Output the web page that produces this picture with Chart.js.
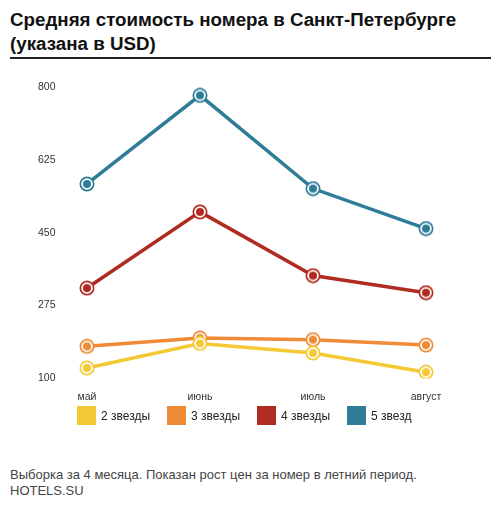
<!DOCTYPE html>
<html>
<head>
<meta charset="utf-8">
<script src="https://cdn.jsdelivr.net/npm/chart.js@4"></script>
<style>
  body { margin: 0; background: #fff; font-family: "Liberation Sans", Arial, sans-serif; }
  #title { position: absolute; left: 10px; top: 8px; width: 481px; font-weight: bold; font-size: 18.75px;
           line-height: 24px; color: #111; border-bottom: 2px solid #222; padding-bottom: 1px; }
  #wrap { position: absolute; left: 0; top: 66px; width: 500px; height: 349px; }
  #legend { position: absolute; left: 77px; top: 406px; display: flex; }
  #legend .item { width: 90px; display: flex; align-items: center; font-size: 12px; color: #222; }
  #legend .box { width: 19px; height: 19px; margin-right: 5px; }
  #note { position: absolute; left: 10px; top: 467px; font-size: 13px; line-height: 16px; color: #444; }
</style>
</head>
<body>
<div id="title">Средняя стоимость номера в Санкт-Петербурге<br>(указана в USD)</div>
<div id="wrap"><canvas id="chart"></canvas></div>
<div id="legend"></div>
<div id="note">Выборка за 4 месяца. Показан рост цен за номер в летний период.<br>HOTELS.SU</div>
<script>
// данные
const months = ['май', 'июнь', 'июль', 'август'];
const seriesNames = ['2 звезды', '3 звезды', '4 звезды', '5 звезд'];
const stars2 = [125, 184, 161, 115];
const stars3 = [177, 197, 193, 180];
const stars4 = [317, 500, 347, 306];
const stars5 = [567, 780, 556, 460];
const yTicks = [100, 275, 450, 625, 800];

const colors = ['#f3c935', '#ef8a36', '#b02b21', '#2e7c97'];

// маркер: кольцо цвета, белое кольцо, точка внутри
const makeMarker = (color) => {
    const c = document.createElement('canvas');
    c.width = 16; c.height = 16;
    const g = c.getContext('2d');
    const dot = (r, fill) => { g.beginPath(); g.arc(8, 8, r, 0, Math.PI * 2); g.fillStyle = fill; g.fill(); };
    dot(7.5, color);
    dot(5.8, '#fff');
    dot(4, color);
    return c;
};

const allSeries = [stars2, stars3, stars4, stars5];
const datasets = allSeries.map((vals, i) => ({
    label: seriesNames[i],
    data: vals,
    borderColor: colors[i],
    backgroundColor: colors[i],
    borderWidth: 3.5,
    pointStyle: makeMarker(colors[i]),
    pointRadius: 8,
    tension: 0
}));

const chart = new Chart(document.getElementById('chart'), {
    type: 'line',
    data: { labels: months, datasets: datasets },
    options: {
        responsive: true,
        maintainAspectRatio: false,
        animation: false,
        layout: { autoPadding: false, padding: { left: 38, right: 74, top: 21, bottom: 0 } },
        scales: {
            x: {
                grid: { display: false, drawTicks: false },
                border: { display: false },
                ticks: { padding: 12, color: '#333', font: { size: 10.5, family: 'Liberation Sans' } }
            },
            y: {
                min: 100,
                max: 800,
                afterBuildTicks: (axis) => { axis.ticks = yTicks.map(v => ({ value: v })); },
                afterFit: (axis) => { axis.width = 49; },
                grid: { display: false, drawTicks: false },
                border: { display: false },
                ticks: { padding: 0, crossAlign: 'far', color: '#333', font: { size: 10.5, family: 'Liberation Sans' } }
            }
        },
        plugins: {
            legend: { display: false },
            tooltip: { enabled: false }
        }
    }
});

// легенда
const legendEl = document.getElementById('legend');
chart.data.datasets.forEach((ds, i) => {
    const item = document.createElement('div');
    item.className = 'item';
    item.innerHTML = `<span class="box" style="background:${colors[i]}"></span><span>${ds.label}</span>`;
    legendEl.appendChild(item);
});
</script>
</body>
</html>
